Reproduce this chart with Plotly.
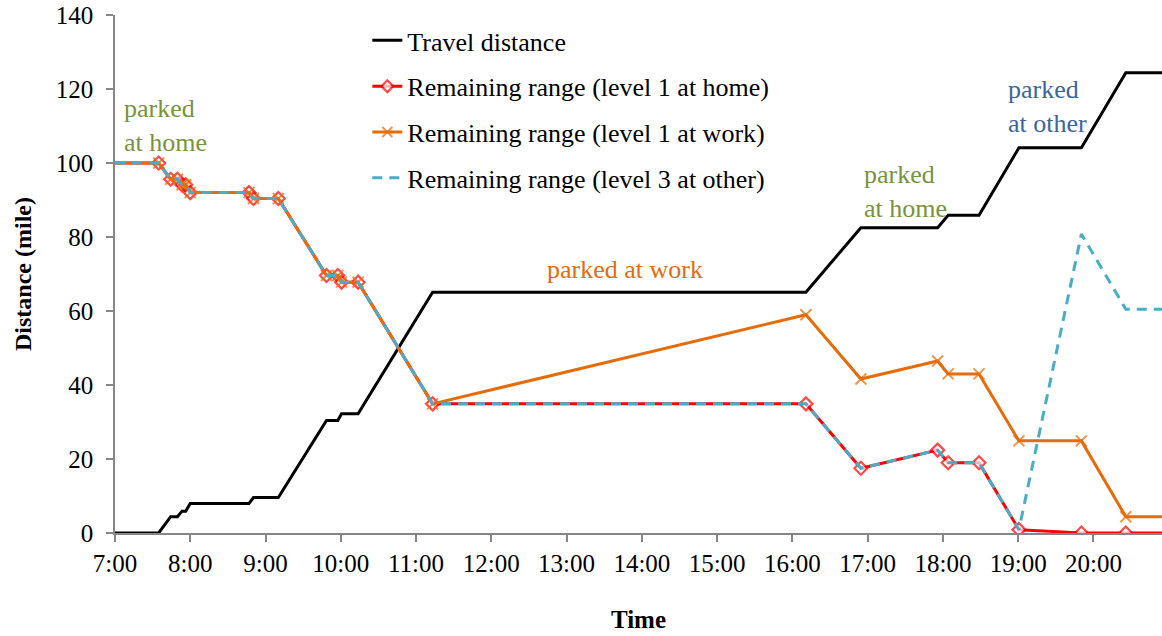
import plotly.graph_objects as go

# time in decimal hours
times = [7.00, 7.58, 7.74, 7.83, 7.89, 7.94, 8.00, 8.78, 8.84, 9.17, 9.81, 9.96,
         10.01, 10.23, 11.22, 16.18, 16.91, 17.93, 18.07, 18.48, 19.01, 19.84, 20.43, 21.00]
travel_distance = [0, 0, 4.4, 4.4, 5.9, 5.9, 8.0, 8.0, 9.6, 9.6, 30.4, 30.4,
                   32.2, 32.2, 65.1, 65.1, 82.5, 82.5, 85.9, 85.9, 104.1, 104.1, 124.4, 124.4]
range_l1_home = [100, 100, 95.6, 95.6, 94.1, 94.1, 92.0, 92.0, 90.4, 90.4, 69.6, 69.6,
                 67.8, 67.8, 34.9, 34.9, 17.5, 22.4, 19.0, 19.0, 0.9, 0, 0, 0]
range_l1_work = [100, 100, 95.6, 95.6, 94.1, 94.1, 92.0, 92.0, 90.4, 90.4, 69.6, 69.6,
                 67.8, 67.8, 34.9, 59.0, 41.6, 46.5, 43.0, 43.0, 24.9, 24.9, 4.4, 4.4]
range_l3_other = [100, 100, 95.6, 95.6, 94.1, 94.1, 92.0, 92.0, 90.4, 90.4, 69.6, 69.6,
                  67.8, 67.8, 34.9, 34.9, 17.5, 22.4, 19.0, 19.0, 0.9, 80.8, 60.5, 60.5]

tick_vals = list(range(7, 21))
tick_text = [f"{h}:00" for h in tick_vals]

series_names = ["Travel distance", "Remaining range (level 1 at home)",
                "Remaining range (level 1 at work)", "Remaining range (level 3 at other)"]

FONT = "Liberation Serif, Times New Roman, serif"
n = len(times)
def sizes(s):
    return [0] + [s] * (n - 2) + [0]

fig = go.Figure()
fig.add_trace(go.Scatter(x=times, y=travel_distance, mode="lines", name=series_names[0],
                         legendgroup="a", line=dict(color="#000000", width=3)))
fig.add_trace(go.Scatter(x=times, y=range_l1_home, mode="lines+markers", name=series_names[1],
                         legendgroup="b", line=dict(color="#FF0000", width=3),
                         marker=dict(symbol="diamond", size=sizes(10), color="white",
                                     line=dict(color="#FF0000", width=2.2))))
fig.add_trace(go.Scatter(x=times, y=range_l1_work, mode="lines+markers", name=series_names[2],
                         legendgroup="c", line=dict(color="#E46C0A", width=3),
                         marker=dict(symbol="x-thin", size=sizes(11), color="#E46C0A",
                                     line=dict(color="#E46C0A", width=2))))
fig.add_trace(go.Scatter(x=times, y=range_l3_other, mode="lines", name=series_names[3],
                         legendgroup="d", line=dict(color="#4BACC6", width=3, dash="10px,7px")))

annotations = [
    dict(x=7.087, y=110.2, text="parked<br>at home", color="#77933C", xanchor="left"),
    dict(x=13.77, y=71.1, text="parked at work", color="#E46C0A", xanchor="center"),
    dict(x=16.93, y=92.2, text="parked<br>at home", color="#77933C", xanchor="left"),
    dict(x=18.84, y=115.4, text="parked<br>at other", color="#3C659B", xanchor="left"),
]
for a in annotations:
    fig.add_annotation(x=a["x"], y=a["y"], xref="x", yref="y", text=a["text"],
                       showarrow=False, xanchor=a["xanchor"], yanchor="middle", align="left",
                       font=dict(family=FONT, size=26, color=a["color"]))

fig.update_layout(
    width=1162, height=636,
    margin=dict(l=114.5, r=0, t=15, b=103),
    paper_bgcolor="white", plot_bgcolor="white",
    font=dict(family=FONT, size=25, color="black"),
    legend=dict(x=0.2410, y=0.9962, xanchor="left", yanchor="top",
                bgcolor="rgba(0,0,0,0)", font=dict(family=FONT, size=26),
                tracegroupgap=9),
    xaxis=dict(range=[7, 7 + 1047.5 / 75.3], tickmode="array", tickvals=tick_vals,
               ticktext=tick_text, showgrid=False, zeroline=False, showline=True,
               linecolor="#868686", linewidth=1.5, ticks="outside", ticklen=7,
               tickcolor="#868686", tickwidth=1.5, ticklabelstandoff=0,
               tickfont=dict(family=FONT, size=25),
               title=dict(text="<b>Time</b>", font=dict(family=FONT, size=25), standoff=35)),
    yaxis=dict(range=[0, 140], tickmode="array", tickvals=list(range(0, 141, 20)),
               showgrid=False, zeroline=False, showline=True,
               linecolor="#868686", linewidth=1.5, ticks="outside", ticklen=7,
               tickcolor="#868686", tickwidth=1.5, ticklabelstandoff=8,
               tickfont=dict(family=FONT, size=25),
               title=dict(text="<b>Distance (mile)</b>", font=dict(family=FONT, size=24), standoff=17)),
)

fig.write_html("out.html", config={"displayModeBar": False},
               post_script="document.body.style.margin='0';")
